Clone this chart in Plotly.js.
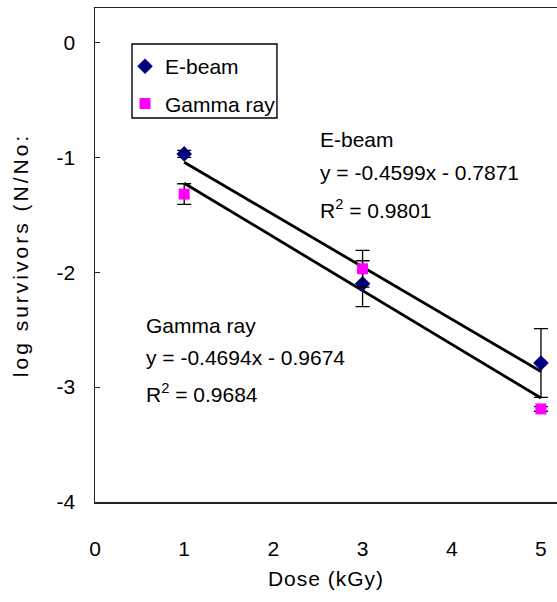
<!DOCTYPE html>
<html>
<head>
<meta charset="utf-8">
<script src="https://cdn.plot.ly/plotly-3.0.1.min.js"></script>
<style>
  html, body { margin: 0; padding: 0; background: #fff; overflow: hidden; }
  #chart { width: 557px; height: 602px; }
  .ytitle { letter-spacing: 3px; }
  .xtitle { letter-spacing: 1px; }
</style>
</head>
<body>
<div id="chart"></div>
<script>
// Survival after irradiation: log(N/No) against dose, two radiation sources
const dose = [1, 3, 5];

const ebeamLog = [-0.97, -2.10, -2.79];
const ebeamErr = [0.03, 0.20, 0.30];

const gammaLog = [-1.32, -1.97, -3.19];
const gammaErr = [0.09, 0.16, 0.02];

const xTickVals = [0, 1, 2, 3, 4, 5];
const xTickText = ['0', '1', '2', '3', '4', '5'];
const yTickVals = [0, -1, -2, -3, -4];
const yTickText = ['0', '-1', '-2', '-3', '-4'];

const ebeamLabel = ['E-beam', 'y = -0.4599x - 0.7871', 'R<sup>2</sup> = 0.9801'];
const gammaLabel = ['Gamma ray', 'y = -0.4694x - 0.9674', 'R<sup>2</sup> = 0.9684'];

// Least-squares linear trendline over the measured doses
function trend(xs, ys) {
  const n = xs.length;
  const mx = xs.reduce((a, b) => a + b, 0) / n;
  const my = ys.reduce((a, b) => a + b, 0) / n;
  let sxy = 0, sxx = 0;
  for (let i = 0; i < n; i++) {
    sxy += (xs[i] - mx) * (ys[i] - my);
    sxx += (xs[i] - mx) * (xs[i] - mx);
  }
  const slope = sxy / sxx;
  const icpt = my - slope * mx;
  const x0 = Math.min(...xs), x1 = Math.max(...xs);
  return { x: [x0, x1], y: [icpt + slope * x0, icpt + slope * x1] };
}

const tE = trend(dose, ebeamLog);
const tG = trend(dose, gammaLog);

const FONT = 'Liberation Sans, Arial, Helvetica, sans-serif';
const FS = 21;

const traces = [
  {
    x: tE.x, y: tE.y, mode: 'lines', showlegend: false, hoverinfo: 'skip',
    line: { color: '#000', width: 2.8 }
  },
  {
    x: tG.x, y: tG.y, mode: 'lines', showlegend: false, hoverinfo: 'skip',
    line: { color: '#000', width: 2.8 }
  },
  {
    name: 'E-beam', legendgroup: 'e', x: dose, y: ebeamLog, mode: 'markers',
    marker: { symbol: 'diamond', size: 12, color: '#000080' },
    error_y: { type: 'data', array: ebeamErr, visible: true, color: '#000', thickness: 1.3, width: 7 }
  },
  {
    name: 'Gamma ray', legendgroup: 'g', x: dose, y: gammaLog, mode: 'markers',
    marker: { symbol: 'square', size: 11, color: '#FF00FF' },
    error_y: { type: 'data', array: gammaErr, visible: true, color: '#000', thickness: 1.3, width: 7 }
  }
];

function textLines(lines, x, ys) {
  return lines.map((t, i) => ({
    text: t, xref: 'paper', yref: 'paper', x: x, y: ys[i],
    xanchor: 'left', yanchor: 'middle', showarrow: false,
    font: { family: FONT, size: FS, color: '#000' }
  }));
}

const annotations = [].concat(
  textLines(ebeamLabel, 0.483, [0.733, 0.667, 0.593]),
  textLines(gammaLabel, 0.106, [0.358, 0.2935, 0.2206])
);

const layout = {
  width: 557, height: 602,
  margin: { l: 95, r: 0, t: 8, b: 100 },
  paper_bgcolor: '#fff', plot_bgcolor: '#fff',
  font: { family: FONT, size: FS, color: '#000' },
  showlegend: true,
  legend: {
    x: 0.065, y: 0.923, xanchor: 'left', yanchor: 'top',
    bgcolor: 'rgba(0,0,0,0)', borderwidth: 0,
    traceorder: 'grouped', tracegroupgap: 7,
    font: { family: FONT, size: FS, color: '#000' }
  },
  xaxis: {
    range: [0, 5.18], tickvals: xTickVals, ticktext: xTickText,
    ticks: '', showgrid: false, zeroline: false,
    showline: true, linecolor: '#222', linewidth: 1.5, mirror: true,
    ticklabelstandoff: 27,
    title: { text: 'Dose (kGy)', standoff: 12, font: { family: FONT, size: FS, color: '#000' } }
  },
  yaxis: {
    range: [-4, 0.3], tickvals: yTickVals, ticktext: yTickText,
    ticks: 'inside', ticklen: 5, tickcolor: '#222', tickwidth: 1.2,
    showgrid: false, zeroline: false,
    showline: true, linecolor: '#222', linewidth: 1.5, mirror: false,
    ticklabelstandoff: 14,
    title: { text: 'log survivors (N/No:', standoff: 22, font: { family: FONT, size: FS, color: '#000' } }
  },
  // legend frame
  shapes: [{
    type: 'rect', xref: 'x', yref: 'y', layer: 'above',
    x0: 0.415, x1: 2.04, y0: -0.6575, y1: -0.0134,
    line: { color: '#000', width: 1.4 }, fillcolor: 'rgba(0,0,0,0)'
  }],
  annotations: annotations
};

Plotly.newPlot('chart', traces, layout, { displayModeBar: false, staticPlot: true });
</script>
</body>
</html>
